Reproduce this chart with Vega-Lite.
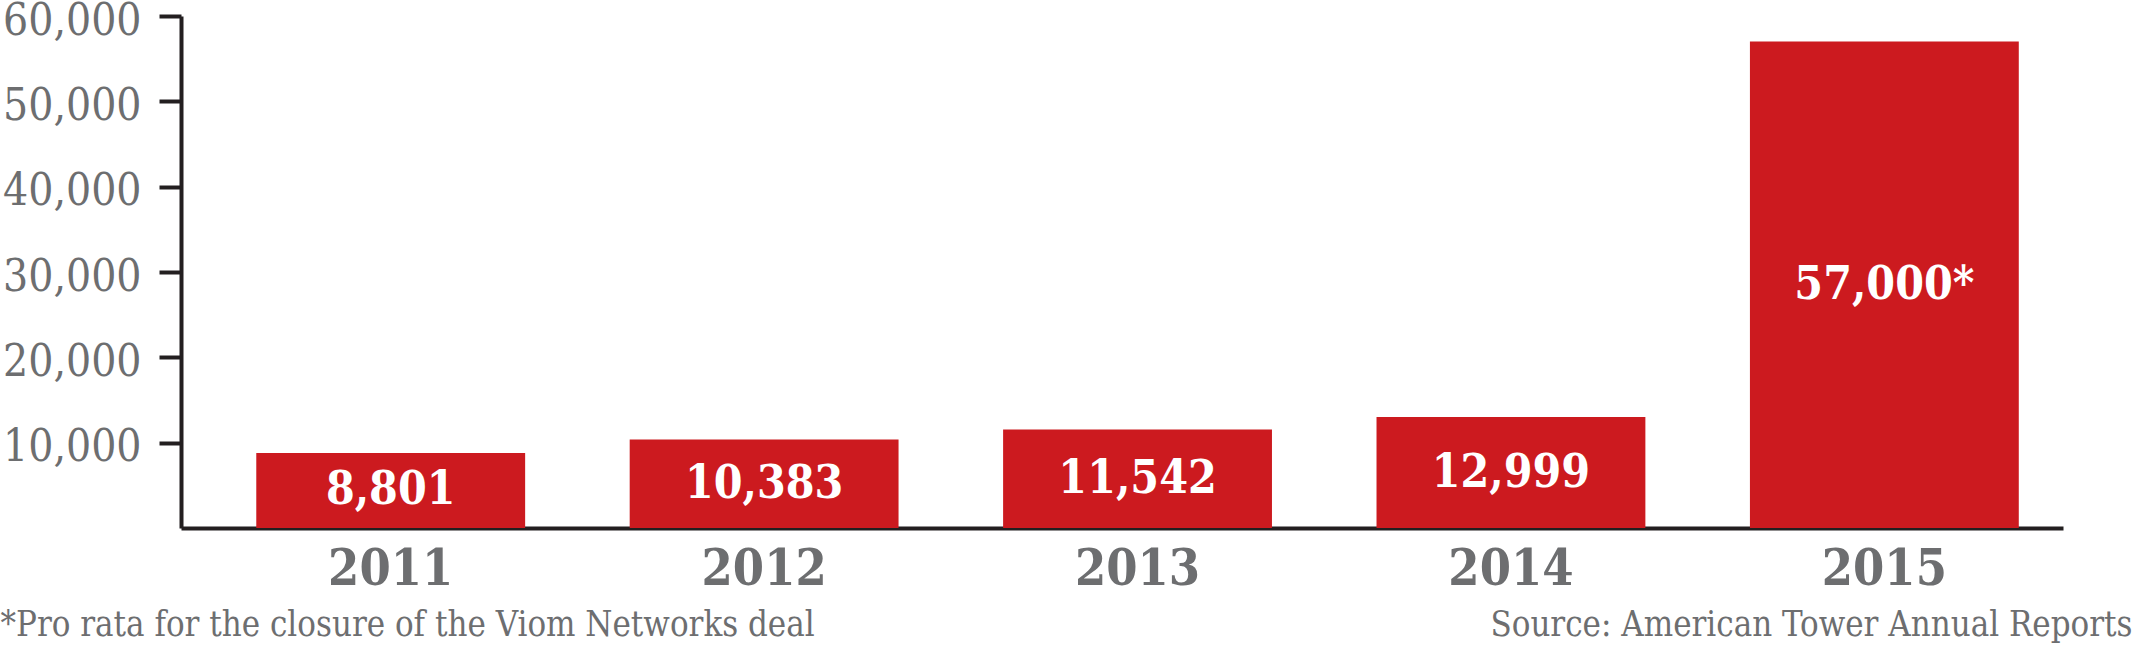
{
  "$schema": "https://vega.github.io/schema/vega-lite/v6.json",
  "width": 1882,
  "height": 512,
  "autosize": "none",
  "padding": {"left": 181, "top": 16, "right": 71, "bottom": 117},
  "background": "white",
  "config": {"view": {"stroke": null}, "font": "DejaVu Serif Condensed, DejaVu Serif"},
  "data": {"values": [
    {"year": "2011", "value": 8801, "label": "8,801"},
    {"year": "2012", "value": 10383, "label": "10,383"},
    {"year": "2013", "value": 11542, "label": "11,542"},
    {"year": "2014", "value": 12999, "label": "12,999"},
    {"year": "2015", "value": 57000, "label": "57,000*"}
  ]},
  "transform": [{"calculate": "datum.value/2", "as": "mid"}],
  "encoding": {
    "x": {
      "field": "year", "type": "ordinal",
      "scale": {"paddingInner": 0.28, "paddingOuter": 0.16, "align": 0.63},
      "axis": {
        "labelAngle": 0, "ticks": false, "domainColor": "#231f20", "domainWidth": 4,
        "labelFont": "DejaVu Serif Condensed, DejaVu Serif", "labelFontWeight": "bold", "labelFontSize": 50, "labelColor": "#6d6e70",
        "labelBaseline": "alphabetic", "labelPadding": 56,
        "title": "Source: American Tower Annual Reports",
        "titleX": 1951, "titleY": 107, "titleAlign": "right", "titleBaseline": "alphabetic", "titleAnchor": null,
        "titleFont": "DejaVu Serif Condensed, DejaVu Serif", "titleFontSize": 34.5, "titleFontWeight": "normal", "titleColor": "#6d6e70"
      }
    }
  },
  "layer": [
    {
      "mark": {"type": "bar", "color": "#cc1a1f"},
      "encoding": {
        "y": {
          "field": "value", "type": "quantitative",
          "scale": {"domain": [0, 60000], "nice": false},
          "axis": {
            "values": [10000, 20000, 30000, 40000, 50000, 60000], "format": ",d",
            "grid": false, "domainColor": "#231f20", "domainWidth": 4,
            "tickColor": "#231f20", "tickWidth": 4, "tickSize": 22,
            "labelFont": "DejaVu Serif Condensed, DejaVu Serif", "labelFontSize": 44, "labelColor": "#6d6e70", "labelPadding": 18, "labelOffset": 5,
            "title": "*Pro rata for the closure of the Viom Networks deal",
            "titleAngle": 0, "titleX": -181, "titleY": 619, "titleAlign": "left", "titleBaseline": "alphabetic", "titleAnchor": null,
            "titleFont": "DejaVu Serif Condensed, DejaVu Serif", "titleFontSize": 34.5, "titleFontWeight": "normal", "titleColor": "#6d6e70"
          }
        }
      }
    },
    {
      "mark": {"type": "text", "color": "white", "fontWeight": "bold", "fontSize": 46, "baseline": "middle", "font": "DejaVu Serif Condensed, DejaVu Serif"},
      "encoding": {
        "y": {"field": "mid", "type": "quantitative"},
        "text": {"field": "label"}
      }
    }
  ]
}
